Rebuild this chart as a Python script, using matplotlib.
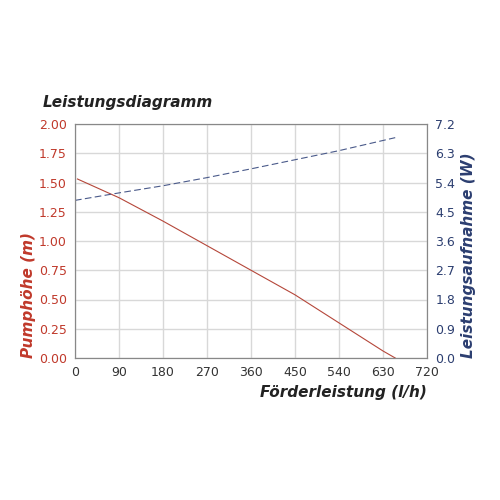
import matplotlib.pyplot as plt

flow_head = [5, 90, 180, 270, 360, 450, 540, 630, 655]
head = [1.53, 1.37, 1.17, 0.96, 0.75, 0.54, 0.30, 0.06, 0.0]
flow_power = [0, 90, 180, 270, 360, 450, 540, 655]
power = [4.85, 5.08, 5.30, 5.55, 5.82, 6.10, 6.38, 6.78]

x_ticks = [0, 90, 180, 270, 360, 450, 540, 630, 720]
left_ticks = [0.0, 0.25, 0.5, 0.75, 1.0, 1.25, 1.5, 1.75, 2.0]
right_ticks = [0.0, 0.9, 1.8, 2.7, 3.6, 4.5, 5.4, 6.3, 7.2]

red = '#c0392b'
blue = '#2c3e70'

fig = plt.figure(figsize=(5, 5), dpi=100)
ax = fig.add_axes([0.15, 0.284, 0.704, 0.468])
ax2 = ax.twinx()

ax.plot(flow_head, head, color='#b5473a', lw=0.8)
ax2.plot(flow_power, power, color='#4a5a8a', lw=0.8, ls=(0, (6, 3)))

ax.set_xlim(0, 720)
ax.set_ylim(0, 2.0)
ax2.set_ylim(0, 7.2)
ax.set_xticks(x_ticks)
ax.set_yticks(left_ticks)
ax.set_yticklabels([f"{v:.2f}" for v in left_ticks])
ax2.set_yticks(right_ticks)
ax2.set_yticklabels([f"{v:.1f}" for v in right_ticks])

ax.grid(True, color='#d8d8d8', lw=1)
ax.set_axisbelow(True)
for a in (ax, ax2):
    for s in a.spines.values():
        s.set_color('#888888')
    a.tick_params(length=0, labelsize=9, pad=6)
ax.tick_params(axis='y', colors=red, labelcolor=red)
ax2.tick_params(axis='y', labelcolor=blue)
ax.tick_params(axis='x', labelcolor='#333333')

ax.set_ylabel("Pumphöhe (m)", color=red, fontsize=11, fontweight='bold', style='italic', labelpad=2, loc='bottom')
ax2.set_ylabel("Leistungsaufnahme (W)", color=blue, fontsize=11, fontweight='bold', style='italic', labelpad=4, loc='bottom')
ax.set_xlabel("Förderleistung (l/h)", color='#222222', fontsize=11, fontweight='bold', style='italic', loc='right', labelpad=4)
fig.text(0.085, 0.785, "Leistungsdiagramm", fontsize=11, fontweight='bold', style='italic', color='#222222')

fig.savefig('out.png', dpi=100)
